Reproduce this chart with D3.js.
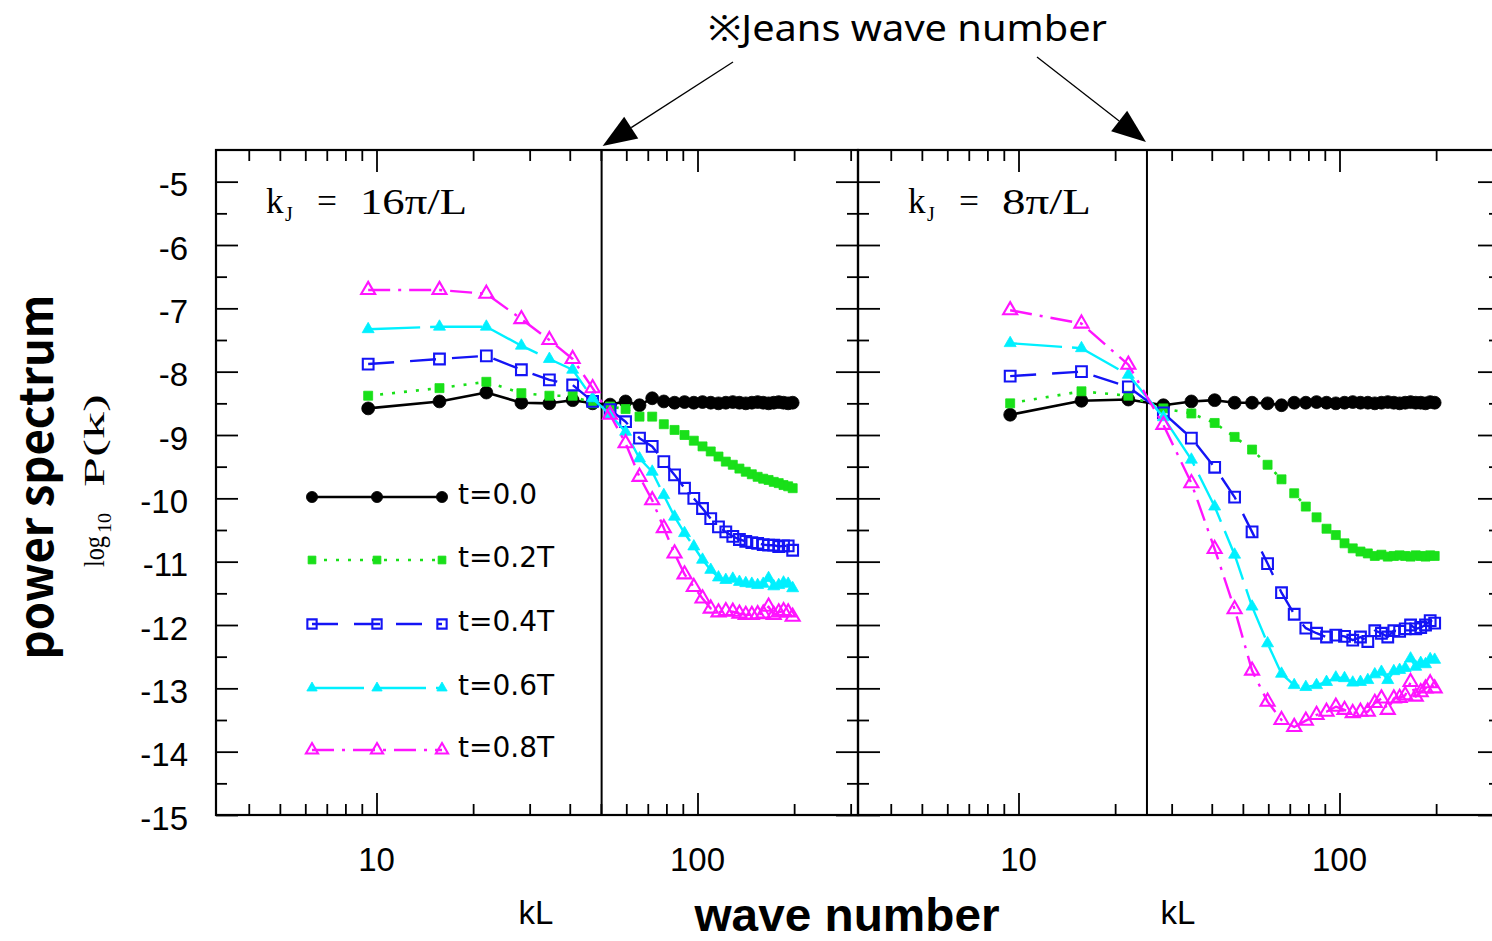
<!DOCTYPE html>
<html>
<head>
<meta charset="utf-8">
<script src="https://cdn.jsdelivr.net/npm/d3@7"></script>
<style>
  html, body { margin: 0; padding: 0; background: #fff; overflow: hidden; }
  svg { display: block; }
</style>
</head>
<body>
<svg id="chart" width="1492" height="941"></svg>
<script>
// Wave numbers kL of the sampled modes (odd multiples of pi)
const kL = [9.42, 15.71, 21.99, 28.27, 34.56, 40.84, 47.12, 53.41, 59.69, 65.97,
            72.26, 78.54, 84.82, 91.11, 97.39, 103.67, 109.96, 116.24, 122.52, 128.81,
            135.09, 141.37, 147.65, 153.94, 160.22, 166.50, 172.79, 179.07, 185.35, 191.64, 197.92];

const seriesNames = ["t=0.0", "t=0.2T", "t=0.4T", "t=0.6T", "t=0.8T"];

// log10 P(k), run with kJ = 16pi/L
const leftT00 = [-8.58, -8.47, -8.33, -8.49, -8.50, -8.45, -8.50, -8.52, -8.47, -8.53,
                 -8.42, -8.47, -8.49, -8.48, -8.49, -8.48, -8.49, -8.50, -8.49, -8.48,
                 -8.49, -8.50, -8.49, -8.48, -8.49, -8.50, -8.49, -8.48, -8.49, -8.50, -8.49];
const leftT02 = [-8.38, -8.26, -8.16, -8.34, -8.38, -8.38, -8.50, -8.55, -8.59, -8.71,
                 -8.71, -8.83, -8.92, -9.00, -9.09, -9.18, -9.26, -9.34, -9.42, -9.47,
                 -9.53, -9.58, -9.62, -9.66, -9.69, -9.71, -9.74, -9.76, -9.79, -9.81, -9.84];
const leftT04 = [-7.88, -7.80, -7.75, -7.97, -8.13, -8.21, -8.47, -8.60, -8.79, -9.05,
                 -9.18, -9.42, -9.63, -9.84, -10.00, -10.16, -10.32, -10.45, -10.53, -10.60,
                 -10.65, -10.68, -10.70, -10.71, -10.73, -10.74, -10.74, -10.76, -10.75, -10.75, -10.82];
const leftT06 = [-7.33, -7.29, -7.29, -7.59, -7.80, -7.97, -8.42, -8.68, -8.95, -9.37,
                 -9.58, -9.95, -10.29, -10.55, -10.76, -10.97, -11.13, -11.25, -11.29, -11.27,
                 -11.32, -11.34, -11.35, -11.37, -11.35, -11.26, -11.39, -11.37, -11.33, -11.35, -11.42];
const leftT08 = [-6.71, -6.71, -6.77, -7.17, -7.50, -7.80, -8.26, -8.68, -9.13, -9.66,
                 -10.03, -10.47, -10.87, -11.20, -11.40, -11.58, -11.74, -11.80, -11.78, -11.79,
                 -11.82, -11.84, -11.84, -11.83, -11.82, -11.71, -11.84, -11.80, -11.78, -11.80, -11.87];

// log10 P(k), run with kJ = 8pi/L
const rightT00 = [-8.68, -8.46, -8.44, -8.53, -8.47, -8.45, -8.49, -8.49, -8.50, -8.53,
                  -8.49, -8.49, -8.48, -8.49, -8.50, -8.49, -8.48, -8.49, -8.49, -8.50,
                  -8.49, -8.48, -8.49, -8.50, -8.49, -8.48, -8.49, -8.49, -8.50, -8.48, -8.49];
const rightT02 = [-8.50, -8.31, -8.38, -8.58, -8.66, -8.81, -9.03, -9.23, -9.47, -9.70,
                  -9.92, -10.13, -10.30, -10.48, -10.58, -10.71, -10.79, -10.84, -10.87, -10.91,
                  -10.89, -10.92, -10.91, -10.90, -10.91, -10.92, -10.90, -10.91, -10.92, -10.90, -10.91];
const rightT04 = [-8.07, -8.00, -8.24, -8.65, -9.05, -9.51, -9.98, -10.53, -11.03, -11.49,
                  -11.83, -12.05, -12.13, -12.19, -12.16, -12.18, -12.24, -12.19, -12.26, -12.09,
                  -12.13, -12.19, -12.09, -12.10, -12.06, -12.00, -12.06, -12.04, -12.00, -11.93, -11.97];
const rightT06 = [-7.55, -7.63, -8.05, -8.72, -9.39, -10.13, -10.89, -11.71, -12.29, -12.77,
                  -12.95, -12.98, -12.95, -12.90, -12.83, -12.84, -12.91, -12.90, -12.87, -12.78,
                  -12.74, -12.87, -12.73, -12.71, -12.68, -12.53, -12.66, -12.60, -12.62, -12.54, -12.55];
const rightT08 = [-7.03, -7.24, -7.89, -8.84, -9.76, -10.80, -11.75, -12.72, -13.21, -13.50,
                  -13.61, -13.51, -13.42, -13.37, -13.29, -13.34, -13.39, -13.37, -13.37, -13.23,
                  -13.16, -13.34, -13.16, -13.15, -13.11, -12.90, -13.13, -13.06, -13.00, -12.92, -13.00];

// Jeans wave number kJ*L of each run and its label
const jeansKL = [50.27, 25.13];
const jeansLabel = ["16\u03c0/L", "8\u03c0/L"];

const yTickValues = [-5, -6, -7, -8, -9, -10, -11, -12, -13, -14, -15];
const yMinorValues = [-5.5, -6.5, -7.5, -8.5, -9.5, -10.5, -11.5, -12.5, -13.5, -14.5];
const xMajorValues = [10, 100];
const xMinorValues = [4, 5, 6, 7, 8, 9, 20, 30, 40, 50, 60, 70, 80, 90, 200, 300];

const panelsData = [
  [leftT00, leftT02, leftT04, leftT06, leftT08],
  [rightT00, rightT02, rightT04, rightT06, rightT08]
];

// ---- drawing ----
const svg = d3.select("#chart");
svg.append("rect").attr("width", 1492).attr("height", 941).attr("fill", "#fff");

const plotTop = 150, plotBottom = 815, panelW = 642;
const panelX0 = [216, 858];
const sans = "'Liberation Sans', Arial, sans-serif";
const serif = "'Liberation Serif', 'Times New Roman', serif";
const jp = "'Noto Sans CJK JP', 'Noto Sans', sans-serif";

const y = d3.scaleLinear().domain([-15, -4.5]).range([plotBottom, plotTop]);
const xScales = panelX0.map(x0 =>
  d3.scaleLog().domain([Math.sqrt(10), 100 * Math.sqrt(10)]).range([x0, x0 + panelW]));

const styles = [
  { color: "#000000", width: 2.6, dash: null,        marker: d3.symbolCircle,   size: 130, fill: true },
  { color: "#19e019", width: 2.6, dash: "3,9",       marker: d3.symbolSquare,   size: 81,  fill: true },
  { color: "#1414f5", width: 2.4, dash: "26,16",     marker: d3.symbolSquare,   size: 115, fill: false },
  { color: "#00f0ff", width: 2.4, dash: "52,10",     marker: d3.symbolTriangle, size: 62,  fill: true },
  { color: "#ff14ff", width: 2.4, dash: "22,8,3,8",  marker: d3.symbolTriangle, size: 85,  fill: false }
];

function drawMarker(g, st, cx, cy, scale) {
  g.append("path")
    .attr("d", d3.symbol().type(st.marker).size(st.size * (scale || 1))())
    .attr("transform", `translate(${cx},${cy})`)
    .attr("fill", st.fill ? st.color : "none")
    .attr("stroke", st.color)
    .attr("stroke-width", st.fill ? 0.8 : 2.1);
}

panelX0.forEach((x0, p) => {
  const x = xScales[p];
  const g = svg.append("g");

  // ticks on all four sides, pointing inward
  const tickStyle = sel => {
    sel.select(".domain").remove();
    sel.selectAll(".tick line").attr("stroke", "#000").attr("stroke-width", 1.8);
  };
  [[xMinorValues, 11], [xMajorValues, 22]].forEach(([vals, len]) => {
    g.append("g").attr("transform", `translate(0,${plotBottom})`)
      .call(d3.axisTop(x).tickValues(vals).tickSize(len).tickFormat("")).call(tickStyle);
    g.append("g").attr("transform", `translate(0,${plotTop})`)
      .call(d3.axisBottom(x).tickValues(vals).tickSize(len).tickFormat("")).call(tickStyle);
  });
  [[yMinorValues, 11], [yTickValues, 22]].forEach(([vals, len]) => {
    g.append("g").attr("transform", `translate(${x0},0)`)
      .call(d3.axisRight(y).tickValues(vals).tickSize(len).tickFormat("")).call(tickStyle);
    g.append("g").attr("transform", `translate(${x0 + panelW},0)`)
      .call(d3.axisLeft(y).tickValues(vals).tickSize(len).tickFormat("")).call(tickStyle);
  });

  // frame
  g.append("rect").attr("x", x0).attr("y", plotTop).attr("width", panelW).attr("height", plotBottom - plotTop)
    .attr("fill", "none").attr("stroke", "#000").attr("stroke-width", 2.2);

  // Jeans wave number marker line
  g.append("line").attr("x1", x(jeansKL[p])).attr("x2", x(jeansKL[p]))
    .attr("y1", plotTop).attr("y2", plotBottom).attr("stroke", "#000").attr("stroke-width", 2);

  // x tick labels
  xMajorValues.forEach(v => {
    g.append("text").attr("x", x(v)).attr("y", 871).attr("text-anchor", "middle")
      .attr("font-family", sans).attr("font-size", 33).text(v);
  });
  g.append("text").attr("x", x0 + 320).attr("y", 924).attr("text-anchor", "middle")
    .attr("font-family", sans).attr("font-size", 33).text("kL");

  // panel label  kJ = ...
  const lab = g.append("g").attr("font-family", serif).attr("fill", "#000");
  lab.append("text").attr("x", x0 + 50).attr("y", 213).attr("font-size", 35).text("k");
  lab.append("text").attr("x", x0 + 69).attr("y", 221).attr("font-size", 20).text("J");
  lab.append("text").attr("x", x0 + 101).attr("y", 213).attr("font-size", 35)
    .attr("textLength", 20).attr("lengthAdjust", "spacingAndGlyphs").text("=");
  lab.append("text").attr("x", x0 + 144).attr("y", 214).attr("font-size", 35)
    .attr("textLength", p === 0 ? 107 : 89).attr("lengthAdjust", "spacingAndGlyphs").text(jeansLabel[p]);

  // series lines and markers
  const line = d3.line().x((d, i) => x(kL[i])).y(d => y(d));
  panelsData[p].forEach((vals, s) => {
    const st = styles[s];
    const sg = g.append("g");
    sg.append("path").datum(vals).attr("d", line)
      .attr("fill", "none").attr("stroke", st.color).attr("stroke-width", st.width)
      .attr("stroke-dasharray", st.dash).attr("stroke-linejoin", "round");
    vals.forEach((v, i) => drawMarker(sg, st, x(kL[i]), y(v), 1));
  });
});

// y tick labels
yTickValues.forEach(v => {
  svg.append("text").attr("x", 188).attr("y", y(v)).attr("dy", "0.44em").attr("text-anchor", "end")
    .attr("font-family", sans).attr("font-size", 33).text(v);
});

// legend
const legendRows = [497, 560, 624, 688, 750];
seriesNames.forEach((name, s) => {
  const st = styles[s];
  const ly = legendRows[s];
  const lg = svg.append("g");
  lg.append("line").attr("x1", 312).attr("x2", 442).attr("y1", ly).attr("y2", ly)
    .attr("stroke", st.color).attr("stroke-width", st.width).attr("stroke-dasharray", st.dash);
  [312, 377, 442].forEach(mx => drawMarker(lg, st, mx, ly, 0.75));
  lg.append("text").attr("x", 458).attr("y", ly + 7)
    .attr("font-family", "'DejaVu Sans', sans-serif").attr("font-size", 28).text(name);
});

// axis titles
svg.append("text").attr("transform", "translate(53,477) rotate(-90)").attr("text-anchor", "middle")
  .attr("font-family", jp).attr("font-weight", "bold").attr("font-size", 46)
  .attr("textLength", 365).attr("lengthAdjust", "spacingAndGlyphs").text("power spectrum");

const ylab = svg.append("g").attr("font-family", serif).attr("fill", "#000");
ylab.append("text").attr("transform", "translate(104,567) rotate(-90)").attr("font-size", 29)
  .attr("textLength", 31).attr("lengthAdjust", "spacingAndGlyphs").text("log");
ylab.append("text").attr("transform", "translate(111,533) rotate(-90)").attr("font-size", 18)
  .attr("textLength", 20).attr("lengthAdjust", "spacingAndGlyphs").text("10");
ylab.append("text").attr("transform", "translate(104,487) rotate(-90)").attr("font-size", 29)
  .attr("textLength", 93).attr("lengthAdjust", "spacingAndGlyphs").text("P(k)");

svg.append("text").attr("x", 847).attr("y", 931).attr("text-anchor", "middle")
  .attr("font-family", sans).attr("font-weight", "bold").attr("font-size", 46)
  .attr("textLength", 305).attr("lengthAdjust", "spacingAndGlyphs").text("wave number");

// Jeans wave number annotation with arrows
svg.append("text").attr("x", 708).attr("y", 41)
  .attr("font-family", "'Noto Sans', 'DejaVu Sans', sans-serif").attr("font-size", 36)
  .attr("textLength", 399).attr("lengthAdjust", "spacingAndGlyphs").text("\u203bJeans wave number");

function arrow(x1, y1, x2, y2) {
  const dx = x2 - x1, dy = y2 - y1, len = Math.hypot(dx, dy);
  const ux = dx / len, uy = dy / len;
  const headL = 34, headW = 13;
  const bx = x2 - ux * headL, by = y2 - uy * headL;
  svg.append("line").attr("x1", x1).attr("y1", y1).attr("x2", bx).attr("y2", by)
    .attr("stroke", "#000").attr("stroke-width", 1.3);
  svg.append("path")
    .attr("d", `M${x2},${y2}L${bx - uy * headW},${by + ux * headW}L${bx + uy * headW},${by - ux * headW}Z`)
    .attr("fill", "#000");
}
arrow(733, 62, xScales[0](jeansKL[0]) + 1, 146);
arrow(1037, 57, xScales[1](jeansKL[1]) - 1, 142);
</script>
</body>
</html>
